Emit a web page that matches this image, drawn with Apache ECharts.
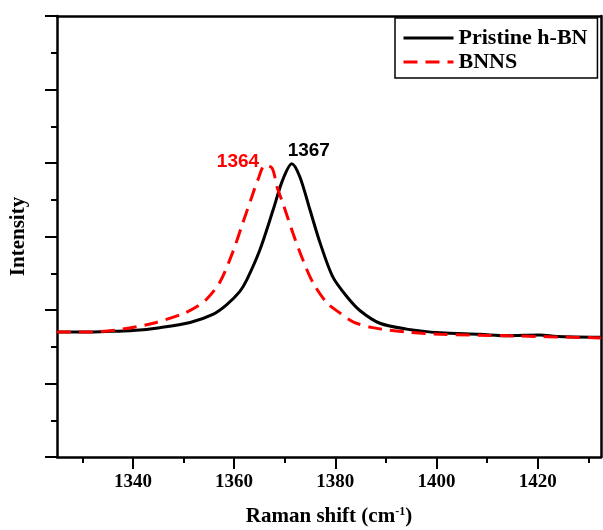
<!DOCTYPE html>
<html>
<head>
<meta charset="utf-8">
<script src="https://cdn.jsdelivr.net/npm/echarts@6/dist/echarts.min.js"></script>
<style>
  html, body { margin: 0; padding: 0; background: #fff; }
  #main { width: 603px; height: 530px; }
</style>
</head>
<body>
<div id="main"></div>
<script>
/* Raman spectra: pristine h-BN vs BNNS */

var hbnShift = [1325, 1331.5, 1336, 1340, 1345.3, 1351.3, 1355.8, 1358.5, 1361.1, 1362.5, 1365.1, 1367.7, 1369.6, 1371.4, 1373, 1375, 1377, 1379.5, 1382.3, 1384.9, 1388.8, 1394.1, 1400.7, 1408.6, 1413.9, 1420.4, 1423.8, 1432.5];
var hbnIntensity = [1.70, 1.70, 1.71, 1.72, 1.76, 1.83, 1.94, 2.07, 2.25, 2.41, 2.82, 3.36, 3.77, 3.99, 3.81, 3.36, 2.91, 2.45, 2.18, 1.99, 1.82, 1.74, 1.69, 1.67, 1.65, 1.66, 1.64, 1.63];

var bnnsShift = [1325, 1331.5, 1338, 1344, 1349.9, 1352.5, 1354.6, 1357.2, 1359.8, 1361.7, 1363.5, 1364.7, 1366.1, 1367.5, 1368.5, 1369.6, 1371.6, 1373.6, 1375.6, 1378.3, 1380.9, 1383.5, 1387.4, 1394.1, 1400.7, 1413.9, 1432.5];
var bnnsIntensity = [1.70, 1.70, 1.74, 1.82, 1.95, 2.04, 2.15, 2.38, 2.80, 3.18, 3.54, 3.77, 3.97, 3.93, 3.67, 3.46, 3.05, 2.68, 2.37, 2.10, 1.96, 1.84, 1.76, 1.70, 1.67, 1.65, 1.62];

var xLabels = [1340, 1360, 1380, 1400, 1420];
var xMinorTicks = [1330, 1350, 1370, 1390, 1410, 1430];

function pairs(xs, ys) {
    var out = [];
    for (var i = 0; i < xs.length; i++) out.push([xs[i], ys[i]]);
    return out;
}

var serif = '"Liberation Serif", "Times New Roman", serif';
var myChart = echarts.init(document.getElementById('main'), null, { renderer: 'canvas' });

var option = {
    animation: false,
    backgroundColor: '#fff',
    grid: { left: 57, right: 2, top: 16, bottom: 73, containLabel: false, outerBoundsMode: 'none' },
    legend: {
        left: 395,
        top: 18,
        orient: 'vertical',
        backgroundColor: '#fff',
        borderColor: '#000',
        borderWidth: 1.5,
        padding: [9, 10, 5, 7],
        itemWidth: 50,
        itemHeight: 12,
        itemGap: 2,
        itemStyle: { opacity: 0 },
        lineStyle: { width: 3 },
        textStyle: { fontFamily: serif, fontWeight: 'bold', fontSize: 22, color: '#000' },
        data: ['Pristine h-BN', 'BNNS']
    },
    xAxis: [
        {
            type: 'value',
            min: 1325,
            max: 1432.5,
            name: 'Raman shift (cm{sup|-1})',
            nameLocation: 'middle',
            nameGap: 49,
            nameTextStyle: {
                fontFamily: serif, fontWeight: 'bold', fontSize: 21, color: '#000',
                rich: { sup: { fontFamily: serif, fontWeight: 'bold', fontSize: 12, verticalAlign: 'top', padding: [0, 0, 10, 0] } }
            },
            splitLine: { show: false },
            axisLine: { lineStyle: { color: '#000', width: 2.5 } },
            axisTick: { length: 12, lineStyle: { color: '#000', width: 2 }, customValues: xLabels },
            axisLabel: {
                margin: 16, fontFamily: serif, fontWeight: 'bold', fontSize: 19, color: '#000',
                customValues: xLabels,
                formatter: function (v) { return String(v); }
            }
        },
        {   // minor ticks on the bottom axis
            type: 'value',
            position: 'bottom',
            min: 1325,
            max: 1432.5,
            splitLine: { show: false },
            axisLine: { show: false },
            axisTick: { length: 6, lineStyle: { color: '#000', width: 2 }, customValues: xMinorTicks },
            axisLabel: { show: false }
        },
        {   // top frame
            type: 'value',
            position: 'top',
            min: 1325,
            max: 1432.5,
            splitLine: { show: false },
            axisLine: { lineStyle: { color: '#000', width: 2.5 } },
            axisTick: { show: false },
            axisLabel: { show: false }
        }
    ],
    yAxis: [
        {
            type: 'value',
            min: 0,
            max: 6,
            interval: 1,
            name: 'Intensity',
            nameLocation: 'middle',
            nameGap: 28,
            nameTextStyle: { fontFamily: serif, fontWeight: 'bold', fontSize: 21, color: '#000' },
            splitLine: { show: false },
            axisLine: { lineStyle: { color: '#000', width: 2.5 } },
            axisTick: { length: 12, lineStyle: { color: '#000', width: 2 } },
            minorTick: { show: true, splitNumber: 2, length: 6, lineStyle: { color: '#000', width: 2 } },
            axisLabel: { show: false }
        },
        {   // right frame
            type: 'value',
            position: 'right',
            min: 0,
            max: 6,
            splitLine: { show: false },
            axisLine: { lineStyle: { color: '#000', width: 2.5 } },
            axisTick: { show: false },
            axisLabel: { show: false }
        }
    ],
    series: [
        {
            name: 'Pristine h-BN',
            type: 'line',
            smooth: 0.3,
            symbol: 'none',
            data: pairs(hbnShift, hbnIntensity),
            lineStyle: { color: '#000', width: 3 },
            itemStyle: { color: '#000' },
            z: 3,
            markPoint: {
                symbol: 'circle',
                symbolSize: 1,
                itemStyle: { color: 'transparent' },
                label: {
                    show: true, position: 'inside', offset: [17, -13], formatter: '1367',
                    fontFamily: '"Liberation Sans", Arial, sans-serif', fontWeight: 'bold', fontSize: 19, color: '#000'
                },
                data: [{ type: 'max' }]
            }
        },
        {
            name: 'BNNS',
            type: 'line',
            smooth: 0.3,
            symbol: 'none',
            data: pairs(bnnsShift, bnnsIntensity),
            lineStyle: { color: '#ff0000', width: 3, type: [14, 8] },
            itemStyle: { color: '#ff0000' },
            z: 4,
            markPoint: {
                symbol: 'circle',
                symbolSize: 1,
                itemStyle: { color: 'transparent' },
                label: {
                    show: true, position: 'inside', offset: [-27, -3], formatter: '1364',
                    fontFamily: '"Liberation Sans", Arial, sans-serif', fontWeight: 'bold', fontSize: 19, color: '#ff0000'
                },
                data: [{ type: 'max' }]
            }
        }
    ]
};

myChart.setOption(option);
</script>
</body>
</html>
